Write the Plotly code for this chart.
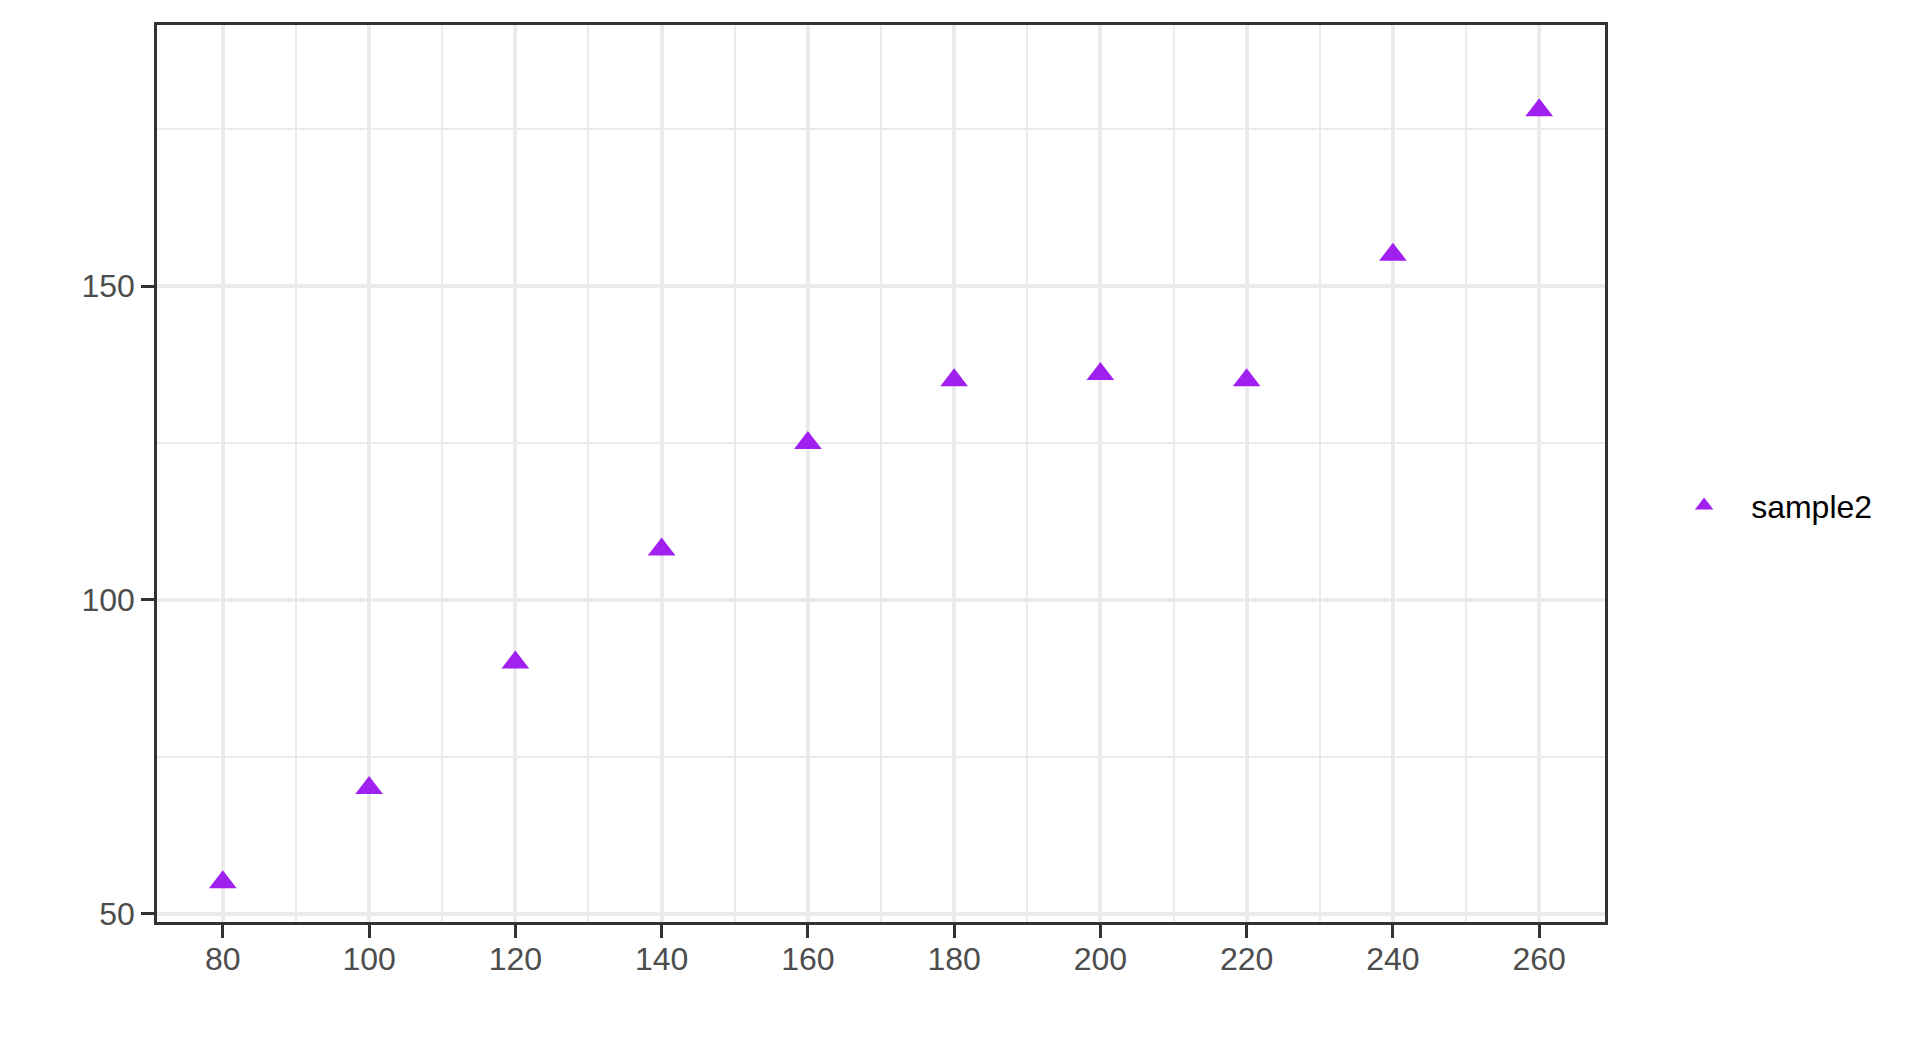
import plotly.graph_objects as go

# Data
x_values = [80, 100, 120, 140, 160, 180, 200, 220, 240, 260]
sample2 = [55, 70, 90, 108, 125, 135, 136, 135, 155, 178]
series_name = "sample2"
x_ticks = [80, 100, 120, 140, 160, 180, 200, 220, 240, 260]
y_ticks = [50, 100, 150]

FONT = "Liberation Sans, Arial, sans-serif"

fig = go.Figure()
fig.add_trace(go.Scatter(
    x=x_values, y=sample2, mode="markers", name=series_name,
    marker=dict(symbol="triangle-up", size=24, color="#A020F0",
                line=dict(width=0)),
    showlegend=True,
))

axis_common = dict(
    showgrid=True, gridcolor="#EBEBEB", gridwidth=4,
    zeroline=False,
    showline=True, linecolor="#333333", linewidth=2.5, mirror=True,
    ticks="outside", ticklen=13, tickwidth=3, tickcolor="#333333",
    tickfont=dict(family=FONT, size=32, color="#4D4D4D"),
)

fig.update_xaxes(
    range=[71, 269], tickmode="array", tickvals=x_ticks,
    ticktext=[str(v) for v in x_ticks],
    ticklabelstandoff=-6,
    minor=dict(showgrid=True, gridcolor="#EBEBEB", gridwidth=2, dtick=10, tick0=0, ticks=""),
    **axis_common,
)
fig.update_yaxes(
    range=[48.66, 191.6], tickmode="array", tickvals=y_ticks,
    ticktext=[str(v) for v in y_ticks],
    minor=dict(showgrid=True, gridcolor="#EBEBEB", gridwidth=2, dtick=25, tick0=0, ticks=""),
    **axis_common,
)

fig.update_layout(
    width=1904, height=1040,
    margin=dict(l=149, r=307, t=17, b=126, pad=0),
    paper_bgcolor="white", plot_bgcolor="white",
    font=dict(family=FONT, size=32, color="black"),
    legend=dict(
        x=1.036, xanchor="left", y=0.464, yanchor="middle",
        xref="paper", yref="paper",
        bgcolor="rgba(0,0,0,0)", borderwidth=0,
        font=dict(family=FONT, size=32, color="black"),
        itemwidth=84,
    ),
)

fig.write_html("out.html")
